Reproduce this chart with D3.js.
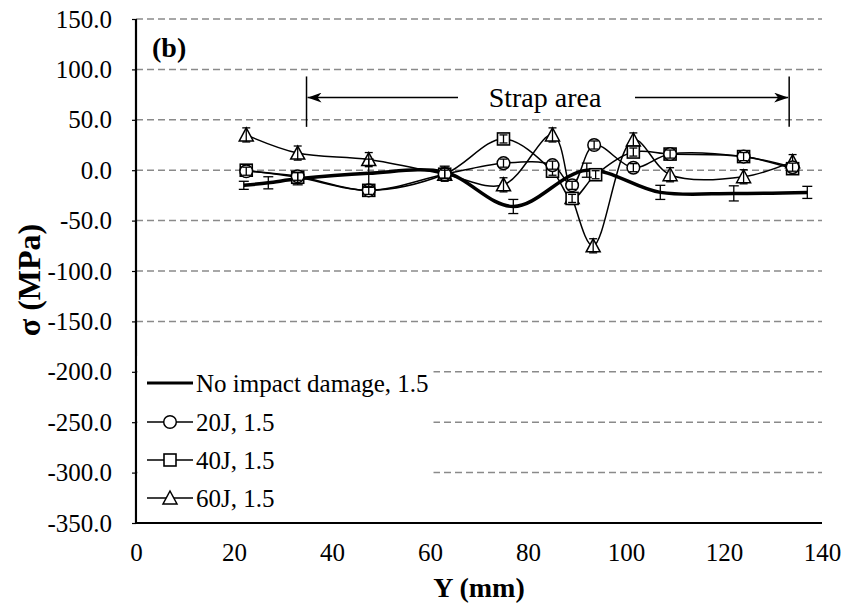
<!DOCTYPE html>
<html><head><meta charset="utf-8">
<script src="https://cdn.jsdelivr.net/npm/d3@7"></script>
<style>body{margin:0;background:#fff}svg{display:block}</style>
</head><body><svg id="c" width="847" height="606"></svg>
<script>
// ---- data ----
const xTicks = [0,20,40,60,80,100,120,140];
const yTicks = [150,100,50,0,-50,-100,-150,-200,-250,-300,-350];
const seriesNames = ["No impact damage, 1.5","20J, 1.5","40J, 1.5","60J, 1.5"];

const noImpX   = [22, 27, 33, 47.5, 63, 77, 92, 107, 122, 137];
const noImpY   = [-15, -12.5, -8.5, -3, -2, -36, 0, -22, -23, -22];
const noImpErr = [4, 6, 6, 14, 6, 7, 7, 7, 7.5, 6];

const j20X   = [22.5, 33, 47.5, 63, 75, 85, 89, 93.5, 101.5, 109, 124, 134];
const j20Y   = [-1, -6, -20, -4, 7, 5, -15, 25, 2.5, 16, 13.5, 3];
const j20Err = [4, 4, 4, 4, 4, 4, 4, 4, 4, 4, 4, 4];

const j40X   = [22.5, 33, 47.5, 63, 75, 85, 89, 93.8, 101.5, 109, 124, 134];
const j40Y   = [0, -7, -20, -4, 31, -1, -28, -4.5, 18, 16, 13.5, 1.5];
const j40Err = [4, 4, 4, 4, 4, 4, 4, 4, 4, 4, 4, 4];

const j60X   = [22.5, 33, 47.5, 63, 75, 85, 89, 93.3, 101.5, 109, 124, 134];
const j60Y   = [35, 17, 10.5, -4, -14.5, 35, -27, -75, 30, -4.5, -6.5, 8.5];
const j60Err = [7, 7, 7, 7, 7, 7, 7, 7, 7, 7, 7, 7];

const strapStart = 34.8, strapEnd = 133.3, strapArrowY = 72, strapTop = 93, strapBottom = 43;
const strapLabel = "Strap area";
const panelLabel = "(b)";
const xTitle = "Y (mm)";
const yTitle = "σ (MPa)";

// ---- drawing ----
const FONT = '"Liberation Serif", Tinos, "Times New Roman", Times, "DejaVu Serif", serif';
const svg = d3.select("#c").style("font-family", FONT);
const x = d3.scaleLinear().domain([0,140]).range([136,822]);
const y = d3.scaleLinear().domain([-350,150]).range([523,19]);

// gridlines
svg.append("g").selectAll("line").data(yTicks.filter(v=>v>-350)).join("line")
  .attr("x1",x(0)).attr("x2",x(140)).attr("y1",d=>y(d)).attr("y2",d=>y(d))
  .attr("stroke","#8a8a8a").attr("stroke-width",1.5).attr("stroke-dasharray","7,4");

// axes
const yAxis = d3.axisLeft(y).tickValues(yTicks).tickFormat(d=>d.toFixed(1)).tickSize(4).tickPadding(20);
const gy = svg.append("g").attr("transform",`translate(${x(0)},0)`).call(yAxis);
gy.attr("font-family", null);
gy.select(".domain").remove();
gy.selectAll("text").style("font-family", FONT).style("font-size","25px").attr("fill","#000");
gy.selectAll(".tick line").attr("stroke","#000").attr("stroke-width",1.2);

const xAxis = d3.axisBottom(x).tickValues(xTicks).tickSize(0).tickPadding(20);
const gx = svg.append("g").attr("transform",`translate(0,${y(-350)})`).call(xAxis);
gx.attr("font-family", null);
gx.select(".domain").remove();
gx.selectAll("text").style("font-family", FONT).style("font-size","25px").attr("fill","#000");

svg.append("line").attr("x1",x(0)).attr("x2",x(0)).attr("y1",y(150)).attr("y2",y(-350)+1)
  .attr("stroke","#000").attr("stroke-width",2.2);
svg.append("line").attr("x1",x(0)-1).attr("x2",x(140)).attr("y1",y(-350)).attr("y2",y(-350))
  .attr("stroke","#000").attr("stroke-width",2.2);

// strap annotation
const defs = svg.append("defs");
defs.append("marker").attr("id","ah").attr("viewBox","0 0 14 10").attr("refX",14).attr("refY",5)
  .attr("markerWidth",14).attr("markerHeight",10).attr("markerUnits","userSpaceOnUse").attr("orient","auto")
  .append("path").attr("d","M0,0 L14,5 L0,10 L4,5 Z").attr("fill","#000");
[strapStart,strapEnd].forEach(s=>{
  svg.append("line").attr("x1",x(s)).attr("x2",x(s)).attr("y1",y(strapTop)).attr("y2",y(strapBottom))
    .attr("stroke","#000").attr("stroke-width",1.5);
});
svg.append("line").attr("x1",458).attr("x2",x(strapStart)+1).attr("y1",y(strapArrowY)).attr("y2",y(strapArrowY))
  .attr("stroke","#000").attr("stroke-width",1.5).attr("marker-end","url(#ah)");
svg.append("line").attr("x1",635).attr("x2",x(strapEnd)-1).attr("y1",y(strapArrowY)).attr("y2",y(strapArrowY))
  .attr("stroke","#000").attr("stroke-width",1.5).attr("marker-end","url(#ah)");
svg.append("text").attr("x",545).attr("y",y(strapArrowY)).attr("dy","0.35em").attr("text-anchor","middle")
  .style("font-family", FONT).style("font-size","28px").text(strapLabel);

// series
const curve = d3.curveCatmullRom.alpha(0.5);
function mk(xs,ys,es){return xs.map((d,i)=>({x:d,y:ys[i],e:es[i]}));}
const series = [
  {name:seriesNames[0], data:mk(noImpX,noImpY,noImpErr), w:3.5, sym:null},
  {name:seriesNames[1], data:mk(j20X,j20Y,j20Err), w:1.5, sym:"circle"},
  {name:seriesNames[2], data:mk(j40X,j40Y,j40Err), w:1.5, sym:"square"},
  {name:seriesNames[3], data:mk(j60X,j60Y,j60Err), w:1.5, sym:"triangle"},
];
const line = d3.line().x(d=>x(d.x)).y(d=>y(d.y)).curve(curve);

function drawSym(g,sym,cx,cy){
  if(sym==="circle") g.append("circle").attr("cx",cx).attr("cy",cy).attr("r",6.3)
      .attr("fill","#fff").attr("stroke","#000").attr("stroke-width",1.5);
  else if(sym==="square") g.append("rect").attr("x",cx-6).attr("y",cy-6).attr("width",12).attr("height",12)
      .attr("fill","#fff").attr("stroke","#000").attr("stroke-width",1.6);
  else if(sym==="triangle") g.append("path").attr("d",`M${cx},${cy-7} L${cx+7},${cy+6} L${cx-7},${cy+6} Z`)
      .attr("fill","#fff").attr("stroke","#000").attr("stroke-width",1.5);
}

series.forEach(s=>{
  svg.append("path").datum(s.data).attr("d",line).attr("fill","none")
    .attr("stroke","#000").attr("stroke-width",s.w);
});
series.slice().reverse().forEach(s=>{
  const g = svg.append("g");
  s.data.forEach(d=>{
    if(s.sym) drawSym(g,s.sym,x(d.x),y(d.y));
    const cx=x(d.x), y1=y(d.y+d.e), y2=y(d.y-d.e), cw=s.sym?4:5;
    g.append("line").attr("x1",cx).attr("x2",cx).attr("y1",y1).attr("y2",y2).attr("stroke","#000").attr("stroke-width",1.3);
    g.append("line").attr("x1",cx-cw).attr("x2",cx+cw).attr("y1",y1).attr("y2",y1).attr("stroke","#000").attr("stroke-width",1.3);
    g.append("line").attr("x1",cx-cw).attr("x2",cx+cw).attr("y1",y2).attr("y2",y2).attr("stroke","#000").attr("stroke-width",1.3);
  });
});

// legend
const lg = svg.append("g");
lg.append("rect").attr("x",x(0)+1.5).attr("y",356).attr("width",296).attr("height",y(-350)-357).attr("fill","#fff");
const legY = [383,422,460,498];
series.forEach((s,i)=>{
  lg.append("line").attr("x1",147).attr("x2",193).attr("y1",legY[i]).attr("y2",legY[i])
    .attr("stroke","#000").attr("stroke-width",i===0?3:1.5);
  if(s.sym) drawSym(lg,s.sym,170,legY[i]);
  lg.append("text").attr("x",196).attr("y",legY[i]).attr("dy","0.35em")
    .style("font-family", FONT).style("font-size","25px").text(s.name);
});

// labels
svg.append("text").attr("x",152).attr("y",57).style("font-family", FONT).style("font-size","28px").style("font-weight","bold").text(panelLabel);
svg.append("text").attr("x",x(70)).attr("y",597).attr("text-anchor","middle").style("font-family", FONT).style("font-size","28px").style("font-weight","bold").text(xTitle);
svg.append("text").attr("transform","translate(40,280) rotate(-90)").attr("text-anchor","middle")
  .style("font-family", FONT).style("font-size","32px").style("font-weight","bold").text(yTitle);
</script></body></html>
